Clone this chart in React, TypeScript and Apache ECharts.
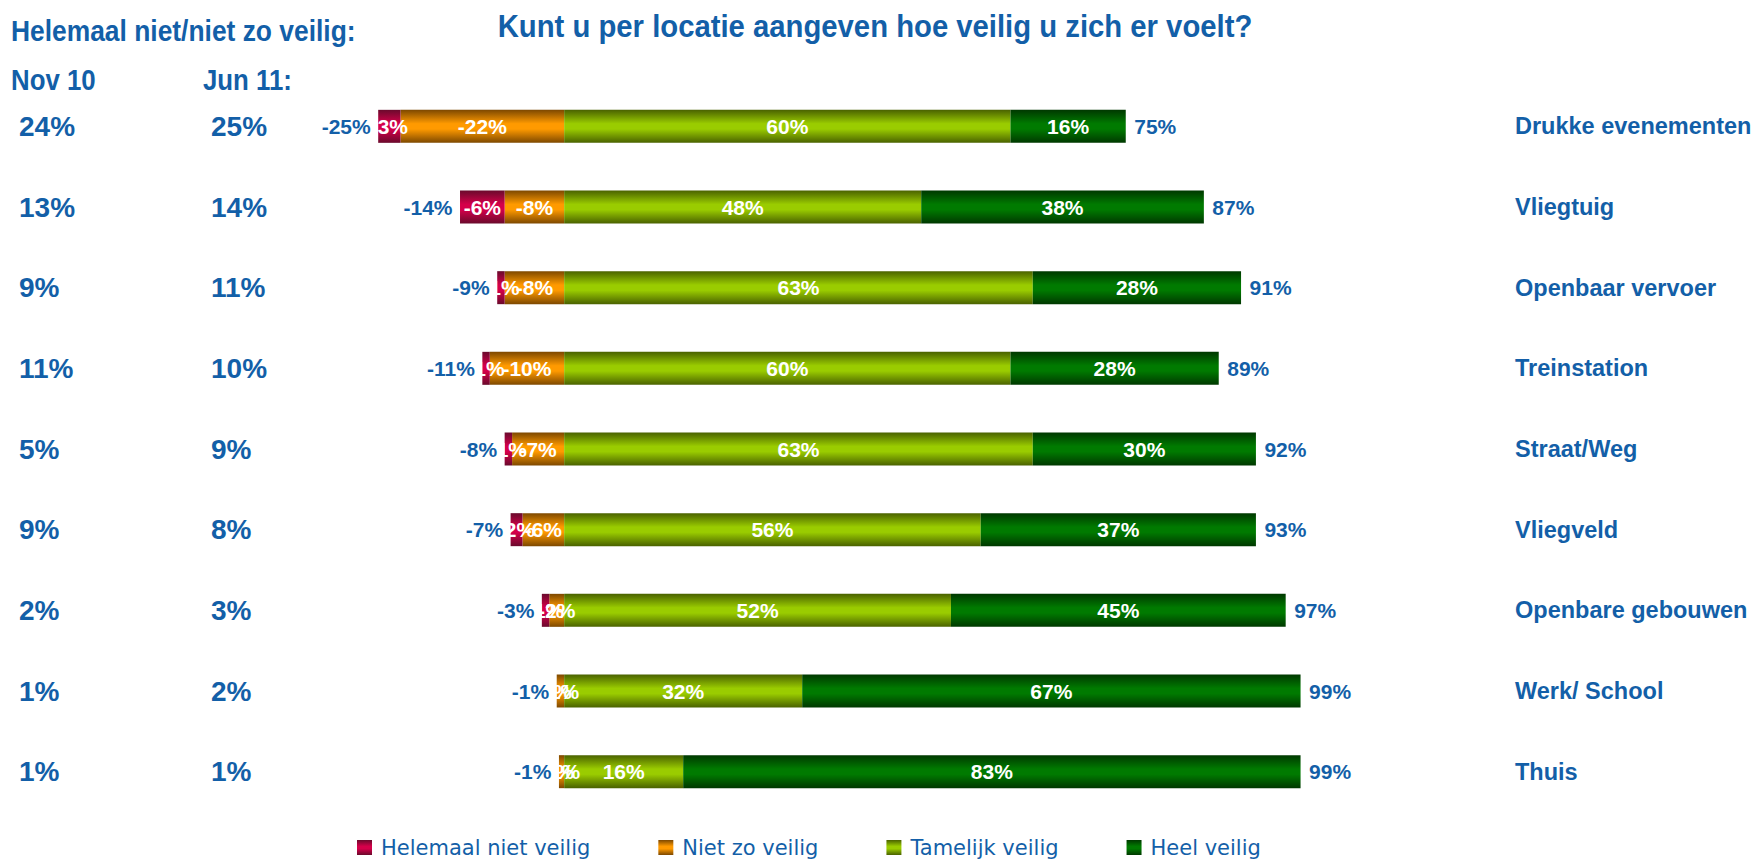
import React, { useEffect, useRef } from "react";
import * as echarts from "echarts";

// ---- data ----
const categories = [
  "Drukke evenementen",
  "Vliegtuig",
  "Openbaar vervoer",
  "Treinstation",
  "Straat/Weg",
  "Vliegveld",
  "Openbare gebouwen",
  "Werk/ School",
  "Thuis",
];
const helemaalNietVeilig = [-3, -6, -1, -1, -1, -1.6, -1, 0, 0];
const nietZoVeilig = [-22, -8, -8, -10, -7, -5.6, -2, -1, -0.7];
const tamelijkVeilig = [60, 48, 63, 60, 63, 56, 52, 32, 16];
const heelVeilig = [15.5, 38, 28, 28, 30, 37, 45, 67, 83];
const negTotals = [25, 14, 9, 11, 8, 7, 3, 1, 1];
const posTotals = [75, 87, 91, 89, 92, 93, 97, 99, 99];
const nov10 = [24, 13, 9, 11, 5, 9, 2, 1, 1];
const jun11 = [25, 14, 11, 10, 9, 8, 3, 2, 1];
const seriesNames = ["Helemaal niet veilig", "Niet zo veilig", "Tamelijk veilig", "Heel veilig"];

const BLUE = "#135FA8";
const SANS = "'Liberation Sans', Arial, Helvetica, sans-serif";

const grad = (dark: string, bright: string) =>
  new echarts.graphic.LinearGradient(0, 0, 0, 1, [
    { offset: 0, color: dark },
    { offset: 0.42, color: bright },
    { offset: 0.58, color: bright },
    { offset: 1, color: dark },
  ]);

export default function App() {
  const ref = useRef<HTMLDivElement>(null);
  useEffect(() => {
    document.body.style.margin = "0";
    if (!ref.current) return;
    const chart = echarts.init(ref.current, undefined, { renderer: "svg" });

    const barLabel = {
      show: true,
      position: "inside",
      color: "#ffffff",
      fontWeight: "bold",
      fontSize: 21,
      fontFamily: SANS,
      formatter: (p: any) => Math.round(p.value) + "%",
    };
    const bar = (name: string, data: number[], color: any) => ({
      name,
      type: "bar",
      stack: "total",
      barWidth: 33,
      data,
      itemStyle: { color },
      label: barLabel,
      silent: true,
    });

    const negSum = categories.map((c, i) => [helemaalNietVeilig[i] + nietZoVeilig[i], c]);
    const posSum = categories.map((c, i) => [tamelijkVeilig[i] + heelVeilig[i], c]);

    const totalLabel = {
      show: true,
      color: BLUE,
      opacity: 1,
      fontWeight: "bold",
      fontSize: 21,
      fontFamily: SANS,
    };

    const sideAxis = (margin: number, values: number[]) => ({
      type: "category",
      inverse: true,
      position: "left",
      data: categories,
      axisLine: { show: false },
      axisTick: { show: false },
      axisLabel: {
        margin,
        align: "left",
        color: BLUE,
        fontWeight: "bold",
        fontSize: 28,
        fontFamily: SANS,
        padding: [4, 0, 0, 0],
        formatter: (_v: string, i: number) => values[i] + "%",
      },
    });

    const headText = (text: string, x: number, y: number, size: number, sx: number, align = "left") => ({
      type: "text",
      x,
      y,
      scaleX: sx,
      style: {
        text,
        fontSize: size,
        fontWeight: "bold",
        fontFamily: SANS,
        fill: BLUE,
        textAlign: align,
        textVerticalAlign: "middle",
        align,
        verticalAlign: "middle",
      },
    });

    const option: any = {
      animation: false,
      backgroundColor: "#ffffff",
      grid: { left: 341, right: 450, top: 86, bottom: 48, containLabel: false },
      xAxis: {
        type: "value",
        min: -30,
        max: 100,
        show: false,
      },
      yAxis: [
        {
          type: "category",
          inverse: true,
          position: "right",
          data: categories,
          axisLine: { show: false },
          axisTick: { show: false },
          axisLabel: {
            margin: 207,
            align: "left",
            color: BLUE,
            fontWeight: "bold",
            fontSize: 23.5,
            fontFamily: SANS,
          },
        },
        sideAxis(322, nov10),
        sideAxis(130, jun11),
      ],
      legend: {
        data: seriesNames,
        left: 357,
        top: 837,
        padding: 0,
        itemWidth: 15,
        itemHeight: 15,
        itemGap: 68,
        icon: "rect",
        textStyle: {
          color: BLUE,
          fontSize: 21,
          fontFamily: "'DejaVu Sans', Verdana, sans-serif",
          padding: [0, 0, 0, 4],
        },
      },
      series: [
        bar(seriesNames[1], nietZoVeilig, grad("#7d4800", "#ff9a00")),
        bar(seriesNames[0], helemaalNietVeilig, grad("#6a0a2c", "#d5004a")),
        bar(seriesNames[2], tamelijkVeilig, grad("#4a6200", "#9acc00")),
        bar(seriesNames[3], heelVeilig, grad("#003800", "#007a00")),
        {
          type: "scatter",
          symbolSize: 1,
          itemStyle: { color: "rgba(0,0,0,0)", opacity: 1 },
          data: negSum,
          silent: true,
          label: {
            ...totalLabel,
            position: "left",
            distance: 7,
            formatter: (p: any) => "-" + negTotals[p.dataIndex] + "%",
          },
        },
        {
          type: "scatter",
          symbolSize: 1,
          itemStyle: { color: "rgba(0,0,0,0)", opacity: 1 },
          data: posSum,
          silent: true,
          label: {
            ...totalLabel,
            position: "right",
            distance: 8,
            formatter: (p: any) => posTotals[p.dataIndex] + "%",
          },
        },
      ],
      graphic: [
        headText("Kunt u per locatie aangeven hoe veilig u zich er voelt?", 875, 26, 32, 0.915, "center"),
        headText("Helemaal niet/niet zo veilig:", 11, 31, 29, 0.91),
        headText("Nov 10", 11, 80, 29, 0.89),
        headText("Jun 11:", 203, 80, 29, 0.89),
      ],
    };
    chart.setOption(option);
    return () => chart.dispose();
  }, []);
  return <div ref={ref} style={{ width: 1758, height: 860, position: "absolute", left: 0, top: 0 }} />;
}
